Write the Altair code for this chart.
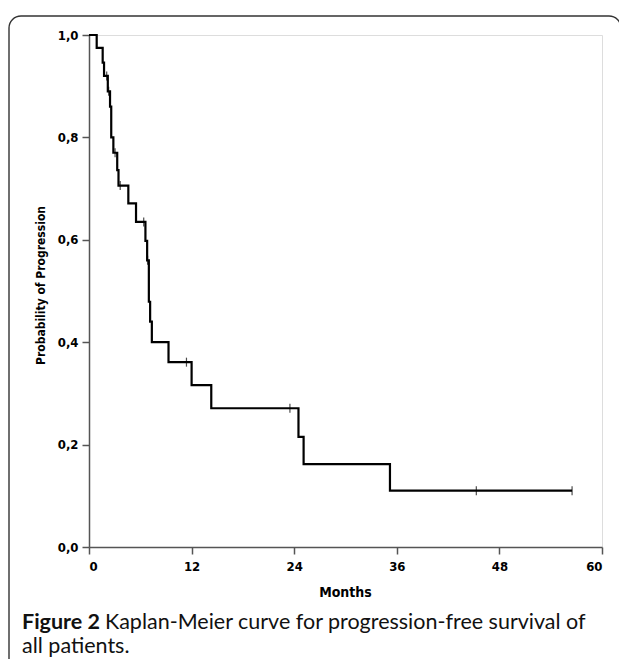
import altair as alt
import pandas as pd

# Kaplan-Meier step curve (months, probability)
step_months = [0, 0.9, 1.6, 1.76, 2.2, 2.46, 2.6, 2.85, 3.3, 3.45, 4.6, 5.5, 6.6, 6.8,
               7.0, 7.15, 7.35, 9.3, 12.0, 14.3, 24.5, 25.1, 35.2, 56.5]
step_surv = [1.0, 0.975, 0.946, 0.92, 0.89, 0.86, 0.80, 0.77, 0.736, 0.706, 0.671, 0.635,
             0.598, 0.56, 0.479, 0.44, 0.40, 0.361, 0.316, 0.271, 0.215, 0.162, 0.110, 0.110]

# Censored observations (tick marks)
censor_months = [2.07, 2.3, 3.05, 3.65, 6.4, 6.85, 11.4, 23.5, 45.3, 56.5]
censor_surv = [0.92, 0.89, 0.77, 0.706, 0.635, 0.56, 0.361, 0.271, 0.110, 0.110]

x_ticks = [0, 12, 24, 36, 48, 60]
y_ticks = [0.0, 0.2, 0.4, 0.6, 0.8, 1.0]

caption_bold = "Figure 2"
caption_rest = "Kaplan-Meier curve for progression-free survival of"
caption_line2 = "all patients."

steps = pd.DataFrame({"months": step_months, "surv": step_surv, "order": range(len(step_months))})
censors = pd.DataFrame({"months": censor_months, "surv": censor_surv})
one = pd.DataFrame({"k": [0]})

NARROW = "Liberation Sans Narrow, DejaVu Sans Condensed, Arial Narrow, sans-serif"
CAP = "Lato, Open Sans, sans-serif"
CAP_SIZE = 21.5

x_enc = alt.X(
    "months:Q",
    scale=alt.Scale(domain=[0, 60], nice=False, zero=True),
    axis=alt.Axis(
        values=x_ticks, title="Months", grid=False, tickSize=7, labelPadding=6,
        labelFont=NARROW, labelFontSize=13, labelFontWeight="bold", labelColor="#000",
        titleFont=NARROW, titleFontSize=14, titleFontWeight="bold", titleColor="#000",
        titleX=256, titleY=45, titleBaseline="middle", titleAlign="center",
        domainColor="#555", domainWidth=1.5, tickColor="#555", tickWidth=1.5,
    ),
)
y_enc = alt.Y(
    "surv:Q",
    scale=alt.Scale(domain=[0, 1], nice=False),
    axis=alt.Axis(
        values=y_ticks, title="Probability of Progression", grid=False, tickSize=7,
        labelPadding=4, labelExpr="replace(format(datum.value, '.1f'), '.', ',')",
        labelFont=NARROW, labelFontSize=13, labelFontWeight="bold", labelColor="#000",
        titleFont=NARROW, titleFontSize=12, titleFontWeight="bold", titleColor="#000",
        titleX=-49, titleY=250, titleAngle=-90, titleBaseline="middle", titleAlign="center",
        domainColor="#555", domainWidth=1.5, tickColor="#555", tickWidth=1.5,
    ),
)

line = alt.Chart(steps).mark_line(
    interpolate="step-after", color="black", strokeWidth=2.2
).encode(x=x_enc, y=y_enc, order="order:Q")

ticks = alt.Chart(censors).mark_tick(
    orient="vertical", color="black", size=9, thickness=1.2
).encode(x="months:Q", y="surv:Q")

frame = alt.Chart(one).mark_rect(
    fill="transparent", stroke="#333", strokeWidth=1.4, cornerRadius=12
).encode(x=alt.value(-80), x2=alt.value(532), y=alt.value(-19), y2=alt.value(700))

cap1a = alt.Chart(one).mark_text(
    align="left", baseline="alphabetic", font=CAP, fontSize=CAP_SIZE, fontWeight="bold", color="#111"
).encode(x=alt.value(-67), y=alt.value(594), text=alt.value(caption_bold))

cap1b = alt.Chart(one).mark_text(
    align="left", baseline="alphabetic", font=CAP, fontSize=CAP_SIZE, color="#111"
).encode(x=alt.value(16), y=alt.value(594), text=alt.value(caption_rest))

cap2 = alt.Chart(one).mark_text(
    align="left", baseline="alphabetic", font=CAP, fontSize=CAP_SIZE, color="#111"
).encode(x=alt.value(-67), y=alt.value(618), text=alt.value(caption_line2))

chart = alt.layer(frame, line, ticks, cap1a, cap1b, cap2).properties(
    width=513, height=512,
    autosize=alt.AutoSizeParams(type="none"),
    padding={"left": 81, "top": 27, "right": 17, "bottom": 112},
).configure_view(stroke="#555", strokeWidth=1.5).configure(background="white")

chart.save("out.html", embed_options={"renderer": "svg", "actions": False})
